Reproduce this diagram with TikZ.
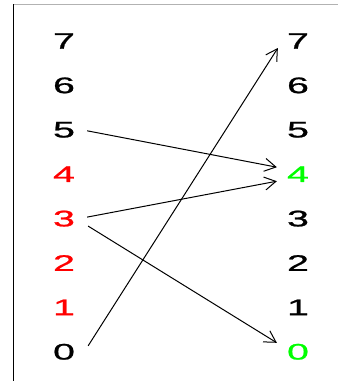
\documentclass[tikz,border=0pt]{standalone}
\usepackage{fontspec}
\setmainfont{Liberation Sans}
\newfontfamily\digfont[FakeStretch=1.75, FakeBold=1]{Liberation Sans}
\usetikzlibrary{arrows.meta}

\begin{document}
\begin{tikzpicture}[x=1pt, y=-1pt,
    digit/.style={font=\digfont\fontsize{22.5}{22.5}\selectfont, inner sep=0pt},
    arr/.style={-{Straight Barb[angle=60:13pt]}, line width=1pt}]
        \useasboundingbox (0,0) rectangle (338,388);
        \draw[gray!60, line width=1pt] (13,4) -- (338,4);
        \draw[line width=1pt] (13,4) -- (13,381);
        \foreach \n/\lc/\rc in {0/black/green, 1/red/black, 2/red/black, 3/red/black,
                                4/red/green, 5/black/black, 6/black/black, 7/black/black}
        {
            \node[digit, text=\lc] (l\n) at (64, 351.8-44.4*\n) {\n};
            \node[digit, text=\rc] (r\n) at (298, 351.8-44.4*\n) {\n};
        }
        \draw[arr] ([shift={(12pt,-1pt)}]l5.east) -- ([shift={(-10pt,7pt)}]r4.west);
        \draw[arr] ([shift={(12pt,1.5pt)}]l3.east) -- ([shift={(-10pt,-7pt)}]r4.west);
        \draw[arr] ([shift={(13pt,-7.5pt)}]l3.east) -- ([shift={(-10pt,9pt)}]r0.west);
        \draw[arr] ([shift={(13pt,6pt)}]l0.east) -- ([shift={(-9pt,-7pt)}]r7.west);
    \end{tikzpicture}
\end{document}
